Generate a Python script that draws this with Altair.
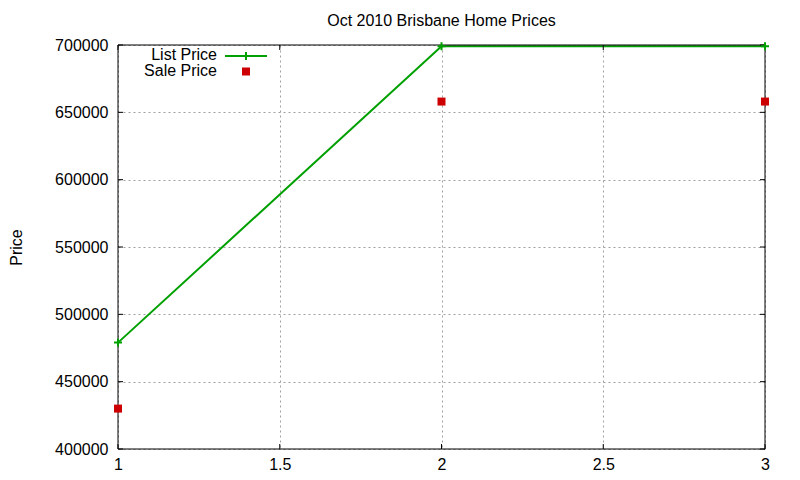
import altair as alt
import pandas as pd

# ---- data ----
months = [1, 2, 3]
list_price = [479000, 699000, 699000]
sale_price = [430000, 658000, 658000]
x_ticks = [1, 1.5, 2, 2.5, 3]
y_ticks = [400000, 450000, 500000, 550000, 600000, 650000, 700000]
legend_labels = ["List Price", "Sale Price"]

W, H = 647, 404
FONT = "Liberation Sans"
GREEN = "#00a000"
RED = "#cc0000"
PLUS = "M-1,0H1M0,-1V1"

df = pd.DataFrame({"x": months, "list": list_price, "sale": sale_price})
xt = pd.DataFrame({"x": x_ticks})
yt = pd.DataFrame({"y": y_ticks})

xs = alt.Scale(domain=[1, 3], nice=False, zero=False)
ys = alt.Scale(domain=[400000, 700000], nice=False, zero=False)

x_axis = alt.Axis(values=x_ticks, format="~g", title="", grid=True, ticks=False, tickSize=0,
                  labelPadding=7, domain=False, labelFlush=False, labelOverlap=False,
                  labelFont=FONT, labelFontSize=16, labelColor="black",
                  gridColor="#a0a0a0", gridDash=[2, 3], gridWidth=1, gridOpacity=1)
y_axis = alt.Axis(values=y_ticks, format="d", title="Price", grid=True, ticks=False, tickSize=0,
                  labelPadding=10, domain=False, titleX=-97, titleY=H / 2,
                  titleBaseline="alphabetic", titleAlign="center", titleAngle=270,
                  labelFont=FONT, labelFontSize=16, labelColor="black", labelOverlap=False,
                  labelFlush=False,
                  titleFont=FONT, titleFontSize=16, titleColor="black", titleFontWeight="normal",
                  gridColor="#a0a0a0", gridDash=[2, 3], gridWidth=1, gridOpacity=1)

base = alt.Chart(df)

list_line = base.mark_line(color=GREEN, strokeWidth=2).encode(
    x=alt.X("x:Q", scale=xs, axis=x_axis),
    y=alt.Y("list:Q", scale=ys, axis=y_axis),
)
list_pts = base.mark_point(shape=PLUS, size=64, filled=False, stroke=GREEN, strokeWidth=2, opacity=1).encode(
    x=alt.X("x:Q", scale=xs),
    y=alt.Y("list:Q", scale=ys),
)
sale_pts = base.mark_square(size=64, color=RED, opacity=1).encode(
    x=alt.X("x:Q", scale=xs),
    y=alt.Y("sale:Q", scale=ys),
)

# inside tick marks (gnuplot style, mirrored)
tl = alt.Chart(yt).mark_rule(color="black", strokeWidth=1).encode(
    y=alt.Y("y:Q", scale=ys), x=alt.value(0), x2=alt.value(5))
tr = alt.Chart(yt).mark_rule(color="black", strokeWidth=1).encode(
    y=alt.Y("y:Q", scale=ys), x=alt.value(W - 5), x2=alt.value(W))
tb = alt.Chart(xt).mark_rule(color="black", strokeWidth=1).encode(
    x=alt.X("x:Q", scale=xs), y=alt.value(H - 5), y2=alt.value(H))
tt = alt.Chart(xt).mark_rule(color="black", strokeWidth=1).encode(
    x=alt.X("x:Q", scale=xs), y=alt.value(0), y2=alt.value(5))

# border
one = pd.DataFrame({"k": [0]})
b_top = alt.Chart(one).mark_rule(color="black", strokeWidth=1).encode(
    x=alt.value(0), x2=alt.value(W), y=alt.value(0))
b_bot = alt.Chart(one).mark_rule(color="black", strokeWidth=1).encode(
    x=alt.value(0), x2=alt.value(W), y=alt.value(H))
b_left = alt.Chart(one).mark_rule(color="black", strokeWidth=1).encode(
    y=alt.value(0), y2=alt.value(H), x=alt.value(0))
b_right = alt.Chart(one).mark_rule(color="black", strokeWidth=1).encode(
    y=alt.value(0), y2=alt.value(H), x=alt.value(W))

# legend (gnuplot style: label left, sample right)
leg1 = pd.DataFrame({"label": [legend_labels[0]]})
leg2 = pd.DataFrame({"label": [legend_labels[1]]})
lt1 = alt.Chart(leg1).mark_text(align="right", baseline="alphabetic", font=FONT, fontSize=16,
                                color="black").encode(text="label:N", x=alt.value(99), y=alt.value(14.5))
lt2 = alt.Chart(leg2).mark_text(align="right", baseline="alphabetic", font=FONT, fontSize=16,
                                color="black").encode(text="label:N", x=alt.value(99), y=alt.value(30.5))
ll = alt.Chart(leg1).mark_rule(color=GREEN, strokeWidth=2).encode(
    x=alt.value(107), x2=alt.value(149), y=alt.value(11))
lp = alt.Chart(leg1).mark_point(shape=PLUS, size=64, filled=False, stroke=GREEN, strokeWidth=2, opacity=1).encode(
    x=alt.value(128), y=alt.value(11))
lsq = alt.Chart(leg2).mark_square(size=64, color=RED, opacity=1).encode(
    x=alt.value(128), y=alt.value(26.5))

chart = alt.layer(
    list_line, tl, tr, tb, tt, b_top, b_bot, b_left, b_right,
    list_pts, sale_pts, lt1, lt2, ll, lp, lsq,
).properties(
    width=W, height=H,
    title=alt.TitleParams("Oct 2010 Brisbane Home Prices", font=FONT, fontSize=16,
                          fontWeight="normal", color="black", offset=8),
    autosize=alt.AutoSizeParams(type="none"),
    padding={"left": 110, "top": 37, "right": 27, "bottom": 23},
    background="white",
).configure_view(stroke=None)

chart.save("out.html", embed_options={"renderer": "svg", "actions": False})
